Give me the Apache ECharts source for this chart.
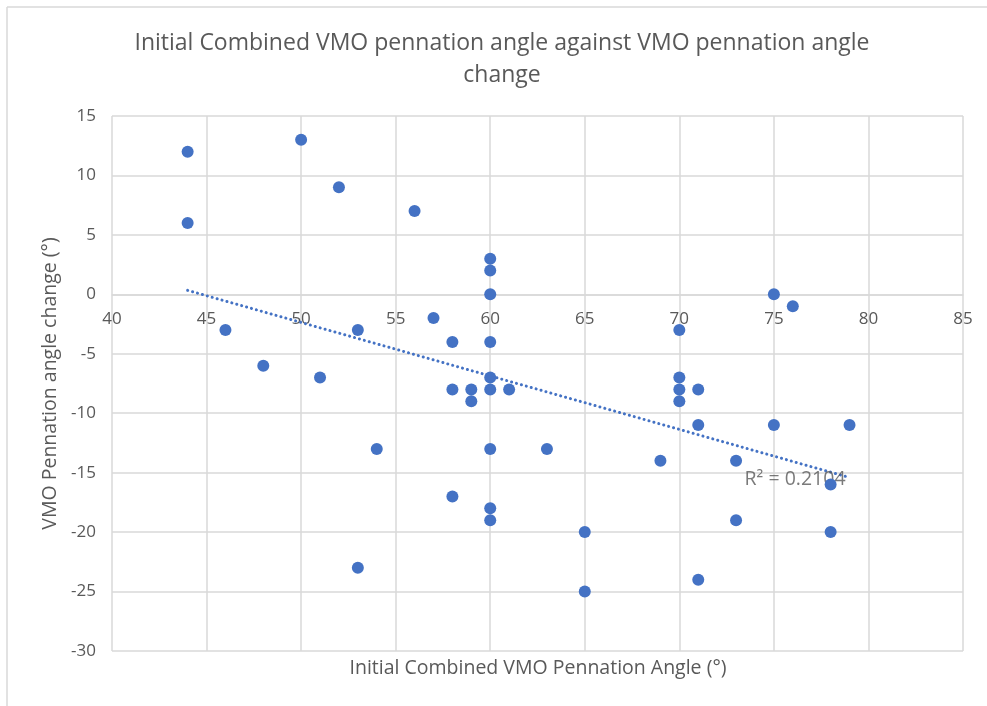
<!DOCTYPE html>
<html>
<head>
<meta charset="utf-8">
<script src="https://cdn.jsdelivr.net/npm/echarts@6/dist/echarts.min.js"></script>
<style>
  html, body { margin: 0; padding: 0; background: #fff; }
  #chart { width: 987px; height: 706px; }
</style>
</head>
<body>
<div id="chart"></div>
<script>
// Initial combined VMO pennation angle (deg)
const initialAngle = [
  44, 44, 46, 48, 50, 51, 52, 53, 53, 54, 56, 57, 58, 58, 58, 59, 59,
  60, 60, 60, 60, 60, 60, 60, 60, 60, 61, 63, 65, 65, 69,
  70, 70, 70, 70, 71, 71, 71, 73, 73, 75, 75, 76, 78, 78, 79
];
// VMO pennation angle change (deg)
const angleChange = [
  12, 6, -3, -6, 13, -7, 9, -3, -23, -13, 7, -2, -4, -8, -17, -8, -9,
  3, 2, 0, -4, -7, -8, -13, -18, -19, -8, -13, -20, -25, -14,
  -3, -7, -8, -9, -8, -11, -24, -14, -19, 0, -11, -1, -16, -20, -11
];
const xTicks = [40, 85, 5];
const yTicks = [-30, 15, 5];
const r2Text = 'R\u00b2 = 0.2104';

const points = initialAngle.map((x, i) => [x, angleChange[i]]);

// least squares trendline over the data range
const n = points.length;
const mx = initialAngle.reduce((a, b) => a + b, 0) / n;
const my = angleChange.reduce((a, b) => a + b, 0) / n;
let sxy = 0, sxx = 0;
points.forEach(([x, y]) => { sxy += (x - mx) * (y - my); sxx += (x - mx) * (x - mx); });
const slope = sxy / sxx;
const icpt = my - slope * mx;
const xMin = Math.min(...initialAngle);
const xMax = Math.max(...initialAngle);
const trend = [[xMin, icpt + slope * xMin], [xMax, icpt + slope * xMax]];

const FONT = 'Open Sans';
const GREY = '#595959';
const GRID = '#D9D9D9';
const BLUE = '#4472C4';

// plot box
const gridTop = 116, gridBottom = 55, chartH = 706;
const plotH = chartH - gridTop - gridBottom;
// x labels sit on the y = 0 line, like the source chart
const xAxisOffset = -plotH * (0 - yTicks[0]) / (yTicks[1] - yTicks[0]);

const chart = echarts.init(document.getElementById('chart'));
chart.setOption({
  animation: false,
  textStyle: { fontFamily: FONT },
  grid: { left: 112, right: 24, top: gridTop, bottom: gridBottom },
  xAxis: {
    type: 'value',
    min: xTicks[0], max: xTicks[1], interval: xTicks[2],
    offset: xAxisOffset,
    axisLine: { onZero: false, lineStyle: { color: GRID, width: 1.5 } },
    axisTick: { show: false },
    axisLabel: { color: GREY, fontSize: 17, margin: 16, fontFamily: FONT },
    splitLine: { lineStyle: { color: GRID, width: 1.5 } }
  },
  yAxis: {
    type: 'value',
    min: yTicks[0], max: yTicks[1], interval: yTicks[2],
    name: 'VMO Pennation angle change (\u00b0)',
    nameLocation: 'middle',
    nameGap: 49,
    nameRotate: 90,
    nameTextStyle: { color: GREY, fontSize: 19.5, fontFamily: FONT },
    axisLine: { show: false },
    axisTick: { show: false },
    axisLabel: { color: GREY, fontSize: 17, margin: 16, fontFamily: FONT },
    splitLine: { lineStyle: { color: GRID, width: 1.5 } }
  },
  graphic: [
    { type: 'line', shape: { x1: 7, y1: 7, x2: 987, y2: 7 }, style: { stroke: GRID, lineWidth: 1.5 } },
    { type: 'line', shape: { x1: 7, y1: 7, x2: 7, y2: 706 }, style: { stroke: GRID, lineWidth: 1.5 } },
    {
      type: 'text', x: 502, y: 27,
      style: {
        text: 'Initial Combined VMO pennation angle against VMO pennation angle\nchange',
        fill: GREY, font: '23px "Open Sans"', lineHeight: 32,
        align: 'center', verticalAlign: 'top'
      }
    },
    {
      type: 'text', x: 538, y: 668,
      style: {
        text: 'Initial Combined VMO Pennation Angle (\u00b0)', fill: GREY,
        font: '19.5px "Open Sans"', align: 'center', verticalAlign: 'middle'
      }
    }
  ],
  series: [
    {
      type: 'line',
      data: trend,
      symbol: 'none',
      lineStyle: { color: BLUE, width: 3, type: [0.1, 5], cap: 'round' },
      z: 2
    },
    {
      type: 'scatter',
      data: [trend[1]],
      symbolSize: 0,
      silent: true,
      label: {
        show: true, position: 'left', distance: 4, offset: [0, 2],
        formatter: r2Text, color: GREY, fontSize: 19.5, fontFamily: FONT
      },
      z: 2
    },
    {
      type: 'scatter',
      data: points,
      symbolSize: 12,
      itemStyle: { color: BLUE, opacity: 1 },
      z: 3
    }
  ]
});
</script>
</body>
</html>
